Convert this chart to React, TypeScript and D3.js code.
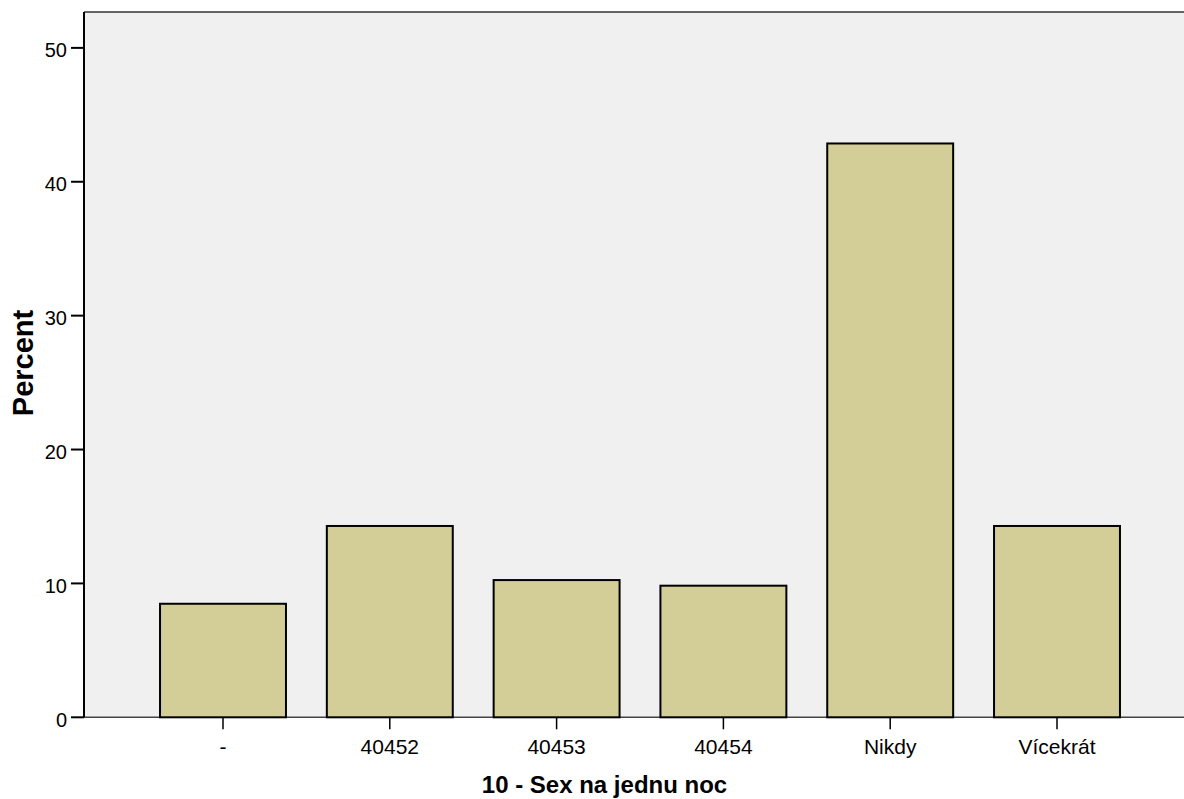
import React from "react";
import * as d3 from "d3";

const categories = ["-", "40452", "40453", "40454", "Nikdy", "Vícekrát"];
const percents = [8.48, 14.29, 10.25, 9.83, 42.86, 14.29];
const yTicks = [0, 10, 20, 30, 40, 50];

const W = 1184;
const H = 799;
const plotLeft = 84;
const plotRight = 1184;
const plotTop = 12;
const plotBottom = 717.3;

export default function App() {
  const x = d3
    .scaleBand<string>()
    .domain(categories)
    .range([139.6, 1140.4])
    .paddingInner(0.245)
    .paddingOuter(0.1225);
  const y = d3.scaleLinear().domain([0, 52.68]).range([plotBottom, plotTop]);
  const font = "'Liberation Sans', Arial, sans-serif";

  return (
    <svg
      width={W}
      height={H}
      style={{ position: "absolute", left: 0, top: 0, background: "#fff" }}
      fontFamily={font}
    >
      <rect x={plotLeft} y={plotTop} width={plotRight - plotLeft} height={plotBottom - plotTop} fill="#F0F0F0" />
      <line x1={plotLeft} x2={plotRight} y1={plotTop} y2={plotTop} stroke="#333" strokeWidth={1.5} />
      <line x1={plotLeft} x2={plotRight} y1={plotBottom} y2={plotBottom} stroke="#444" strokeWidth={1.5} />
      {categories.map((c, i) => (
        <rect
          key={c}
          x={x(c)!}
          y={y(percents[i])}
          width={x.bandwidth()}
          height={plotBottom - y(percents[i])}
          fill="#D3CE98"
          stroke="#000"
          strokeWidth={2}
        />
      ))}
      <line x1={plotLeft} x2={plotLeft} y1={plotTop} y2={plotBottom} stroke="#000" strokeWidth={2} />
      {yTicks.map((t) => (
        <g key={t}>
          <line x1={71} x2={plotLeft} y1={y(t)} y2={y(t)} stroke="#000" strokeWidth={2} />
          <text x={67} y={y(t) + 9.5} textAnchor="end" fontSize={20} fill="#000">
            {t}
          </text>
        </g>
      ))}
      {categories.map((c) => {
        const cx = x(c)! + x.bandwidth() / 2;
        return (
          <g key={c}>
            <line x1={cx} x2={cx} y1={plotBottom} y2={plotBottom + 12} stroke="#000" strokeWidth={1.5} />
            <text x={cx} y={754} textAnchor="middle" fontSize={21} fill="#000">
              {c}
            </text>
          </g>
        );
      })}
      <text
        transform={`translate(33, 363) rotate(-90)`}
        textAnchor="middle"
        fontSize={29}
        fontWeight="bold"
        fill="#000"
      >
        Percent
      </text>
      <text x={604.5} y={793} textAnchor="middle" fontSize={24} fontWeight="bold" fill="#000">
        10 - Sex na jednu noc
      </text>
    </svg>
  );
}
